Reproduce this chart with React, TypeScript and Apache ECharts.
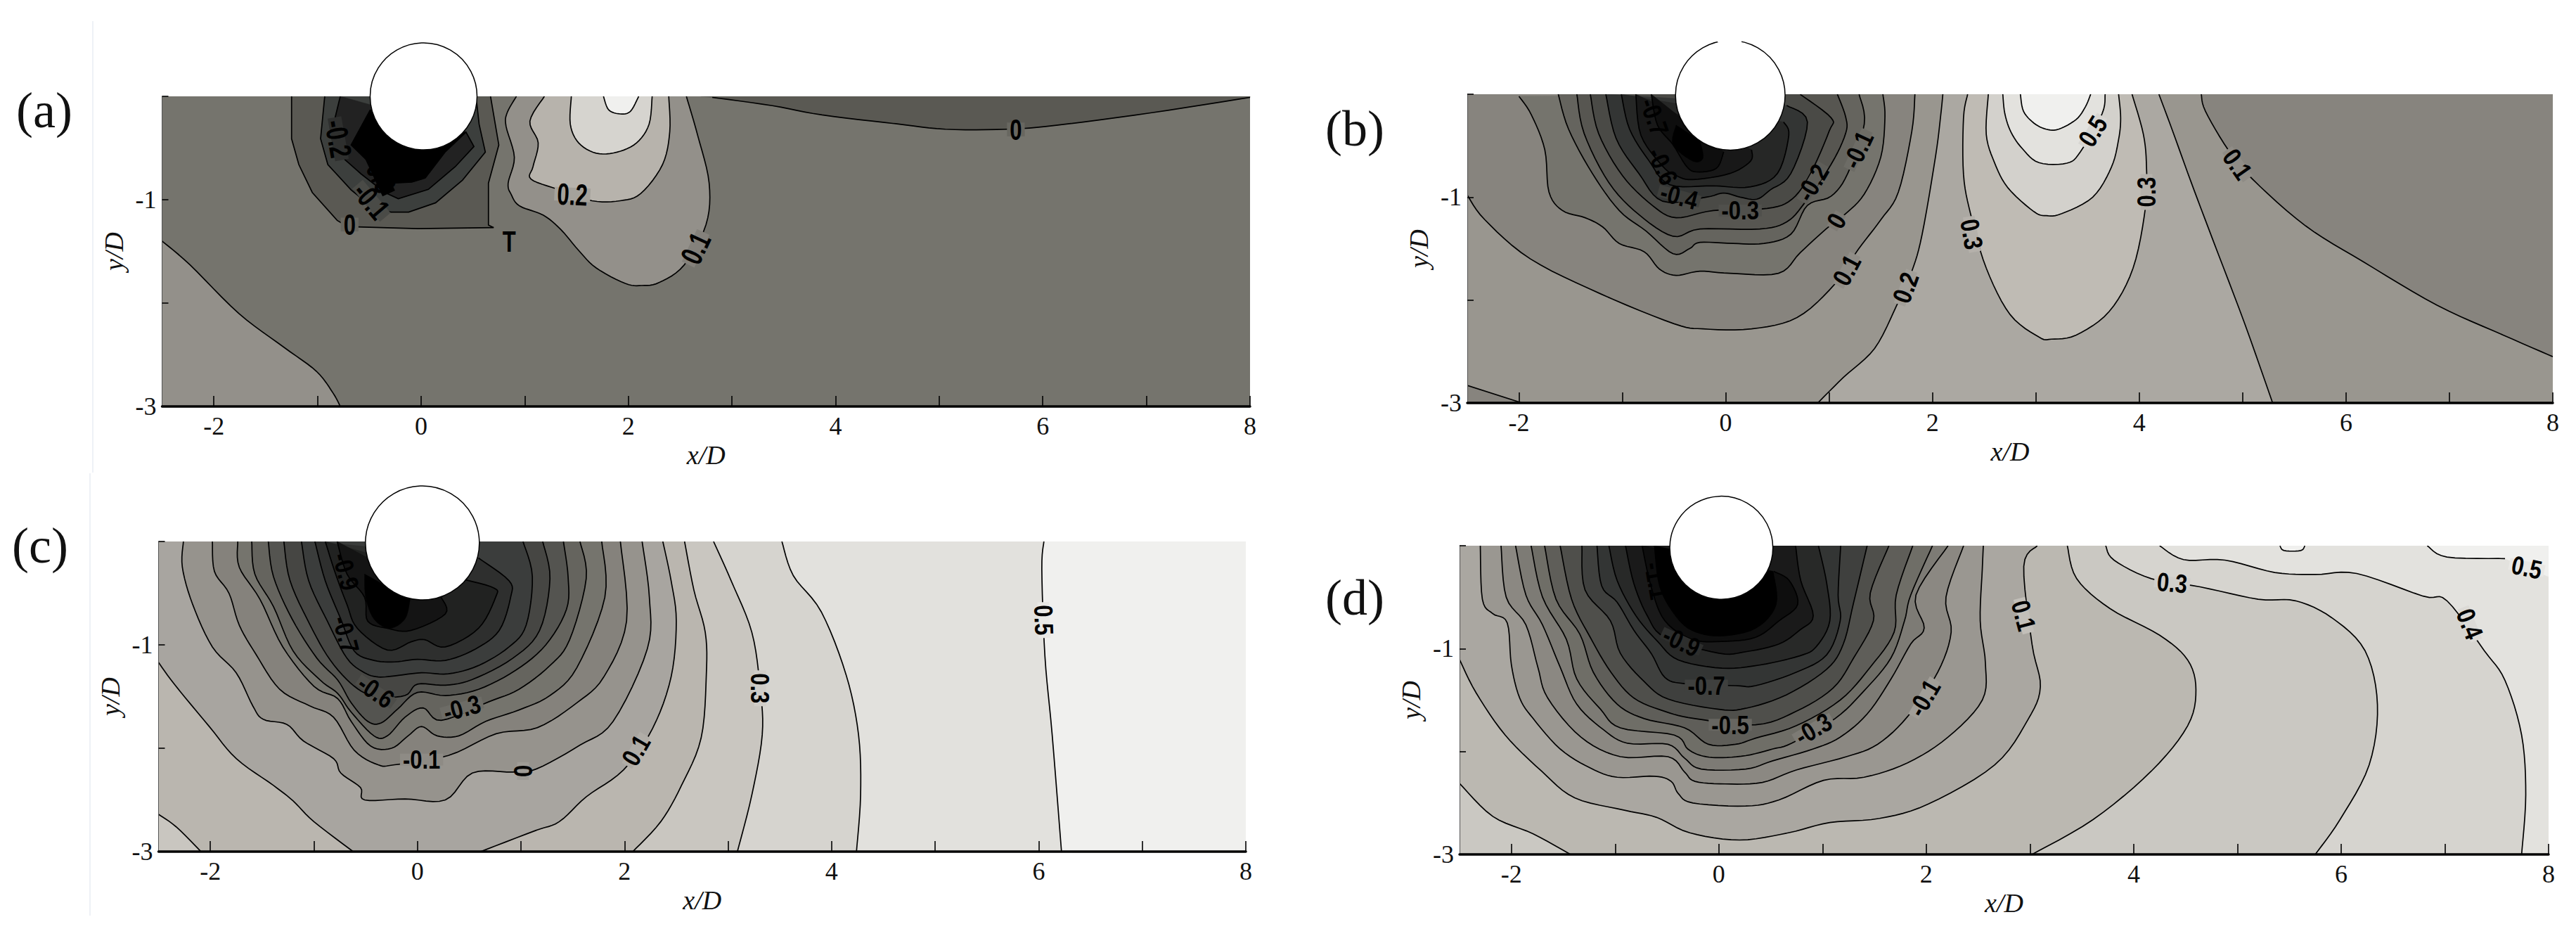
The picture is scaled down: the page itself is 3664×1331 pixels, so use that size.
import React, { useEffect, useRef } from "react";
import * as echarts from "echarts";

type Pt = number[];
type Region = { segments: Pt[][]; corners?: Pt[]; noLine?: boolean; sharp?: boolean };

const xTicks = [-2, -1, 0, 1, 2, 3, 4, 5, 6, 7, 8];
const xLabels = [-2, 0, 2, 4, 6, 8];
const yTicks = [0, -1, -2, -3];
const yLabels = [-1, -3];
const panelNames = ["(a)", "(b)", "(c)", "(d)"];

// ---------- panel (a) ----------
const contoursA: Region[] = [
  { segments: [[[-2.5,-1.4],[-2.23,-1.63],[-1.76,-2.1],[-1.32,-2.43],[-1.01,-2.66],[-0.85,-2.87],[-0.78,-3]]], corners: [[-2.5,-3]] },
  { segments: [[[2.81,-0.01],[3.39,-0.09],[3.87,-0.18],[4.58,-0.265],[5.06,-0.318],[5.65,-0.318],[6.13,-0.28],[7.04,-0.16],[8,-0.01]]], corners: [[8,0],[2.7,0]] },
  { segments: [[[2.56,0],[2.67,-0.38],[2.78,-0.84],[2.75,-1.24],[2.54,-1.63],[2.3,-1.8],[2.13,-1.83],[1.97,-1.81],[1.69,-1.66],[1.52,-1.49],[1.35,-1.29],[1.18,-1.15],[0.95,-1.06],[0.87,-0.95],[0.84,-0.84],[0.9,-0.59],[0.82,-0.29],[0.83,-0.16],[0.92,0]]] },
  { segments: [[[2.39,0],[2.4,-0.34],[2.33,-0.66],[2.12,-0.94],[1.92,-1.01],[1.65,-1.01],[1.32,-0.9],[1.06,-0.8],[1.08,-0.68],[1.13,-0.45],[1.05,-0.24],[1.19,0]]] },
  { segments: [[[2.23,0],[2.2,-0.27],[2.08,-0.45],[1.89,-0.54],[1.69,-0.55],[1.52,-0.45],[1.44,-0.27],[1.45,0]]] },
  { segments: [[[2.1,0],[2.02,-0.145],[1.92,-0.17],[1.81,-0.13],[1.76,0]]] },
  { segments: [[[-1.25,0],[-1.25,-0.41],[-1.18,-0.66],[-1.05,-0.93],[-0.81,-1.2],[-0.71,-1.26],[-0.03,-1.28],[0.7,-1.27],[0.65,-1.245],[0.65,-0.84],[0.75,-0.47],[0.67,0]]], sharp: true },
  { segments: [[[-0.93,0],[-0.97,-0.41],[-0.9,-0.66],[-0.675,-0.905],[-0.45,-1.09],[-0.29,-1.12],[-0.12,-1.12],[0.14,-1.03],[0.4,-0.81],[0.62,-0.54],[0.56,-0.27],[0.53,0]]], sharp: true },
  { segments: [[[-0.78,0],[-0.85,-0.29],[-0.84,-0.52],[-0.58,-0.75],[-0.35,-0.93],[-0.22,-0.99],[0.07,-0.9],[0.33,-0.68],[0.51,-0.485],[0.43,-0.34]]], sharp: true },
  { segments: [[[-0.49,-0.13],[-0.675,-0.47],[-0.48,-0.66],[-0.29,-0.84],[-0.09,-0.83],[0.04,-0.79],[0.23,-0.54],[0.43,-0.35]]], sharp: true },
];
const labelsA: [string, number, number][] = [
  ["0",5.74,-0.32],["0",-0.69,-1.24],["-0.1",-0.48,-1.01],["-0.2",-0.8,-0.41],["-0.3",-0.4,-0.75],["0.2",1.46,-0.95],["0.1",2.65,-1.47],["T",0.85,-1.4],
];

// ---------- panel (b) ----------
const contoursB: Region[] = [
  { segments: [[[4.6,0],[4.64,-0.165],[4.86,-0.54],[5.1,-0.83],[5.61,-1.28],[6.17,-1.63],[6.88,-2.05],[7.52,-2.34],[8,-2.55]]], corners: [[8,0]] },
  { segments: [[[-2.5,-2.83],[-1.97,-3]]], corners: [[-2.5,-3]] },
  { segments: [[[-2.5,-0.98],[-2.33,-1.22],[-1.89,-1.6],[-1.21,-1.94],[-0.5,-2.23],[-0.22,-2.28],[0.25,-2.28],[0.69,-2.17],[1.05,-1.85],[1.28,-1.51],[1.5,-1.22],[1.67,-0.95],[1.8,-0.36],[1.83,0]]], corners: [[-2.5,0]] },
  { segments: [[[0.89,-3],[1.14,-2.75],[1.44,-2.47],[1.65,-2.06],[1.8,-1.72],[1.9,-1.36],[2.03,-0.6],[2.08,-0.2],[2.1,0]],[[4.19,0],[4.32,-0.35],[4.5,-0.85],[4.71,-1.41],[5.02,-2.23],[5.29,-3]]] },
  { segments: [[[2.34,0],[2.3,-0.23],[2.3,-0.78],[2.37,-1.17],[2.52,-1.69],[2.75,-2.14],[3.03,-2.36],[3.15,-2.38],[3.39,-2.34],[3.71,-2.11],[3.94,-1.69],[4.06,-1.1],[4.07,-0.71],[4.04,-0.39],[3.93,0]]] },
  { segments: [[[2.54,0],[2.52,-0.39],[2.6,-0.665],[2.73,-0.91],[2.98,-1.14],[3.1,-1.18],[3.25,-1.16],[3.55,-1],[3.73,-0.71],[3.8,-0.44],[3.82,-0.23],[3.8,0]]] },
  { segments: [[[2.68,0],[2.7,-0.19],[2.76,-0.37],[2.87,-0.53],[3.03,-0.665],[3.3,-0.67],[3.43,-0.56],[3.64,-0.19],[3.67,0]]] },
  { segments: [[[2.85,0],[2.88,-0.165],[2.98,-0.28],[3.1,-0.34],[3.22,-0.34],[3.39,-0.245],[3.48,-0.12],[3.53,0]]] },
  { segments: [[[-2,-0.02],[-1.88,-0.2],[-1.75,-0.54],[-1.71,-0.95],[-1.58,-1.13],[-1.36,-1.2],[-1.19,-1.29],[-1.03,-1.45],[-0.79,-1.53],[-0.64,-1.7],[-0.48,-1.76],[-0.25,-1.72],[0.04,-1.74],[0.51,-1.74],[0.72,-1.54],[0.97,-1.31],[1.15,-1.17],[1.34,-0.97],[1.5,-0.61],[1.54,-0.22],[1.52,0]]] },
  { segments: [[[-1.62,0],[-1.52,-0.34],[-1.29,-0.77],[-1.03,-1.13],[-0.77,-1.33],[-0.51,-1.55],[-0.35,-1.5],[-0.25,-1.44],[0.07,-1.45],[0.37,-1.45],[0.63,-1.36],[0.79,-1.08],[1.02,-0.99],[1.18,-0.77],[1.34,-0.29],[1.29,0]]] },
  { segments: [[[-1.44,0],[-1.37,-0.38],[-1.13,-0.86],[-0.84,-1.17],[-0.51,-1.38],[-0.25,-1.31],[0.33,-1.31],[0.59,-1.24],[0.76,-1.06],[1.02,-0.68],[1.16,-0.38],[1.16,-0.22],[1.08,0]]] },
  { segments: [[[-1.31,0],[-1.23,-0.38],[-1,-0.79],[-0.71,-1.08],[-0.48,-1.2],[-0.12,-1.13],[0.4,-1.11],[0.64,-1.02],[0.82,-0.77],[1,-0.36],[1.02,-0.23],[0.72,0]]] },
  { segments: [[[-1.16,0],[-1.06,-0.43],[-0.84,-0.77],[-0.61,-1.04],[-0.19,-1],[-0.02,-0.96],[0.14,-1],[0.3,-1.02],[0.43,-0.93],[0.63,-0.77],[0.79,-0.27],[0.59,-0.11]]] },
  { segments: [[[-1.01,0],[-0.93,-0.34],[-0.74,-0.65],[-0.54,-0.88],[-0.12,-0.89],[0.24,-0.9],[0.5,-0.77],[0.61,-0.4],[0.56,-0.27]]] },
  { segments: [[[-0.87,0],[-0.82,-0.4],[-0.61,-0.7],[-0.48,-0.79],[-0.32,-0.83],[0.04,-0.77],[0.24,-0.65],[0.25,-0.54]]] },
  { segments: [[[-0.72,0],[-0.66,-0.3],[-0.51,-0.49],[-0.38,-0.7],[-0.28,-0.755],[-0.09,-0.72],[-0.02,-0.56]]] },
  { segments: [[[-0.48,-0.3],[-0.51,-0.49],[-0.32,-0.65],[-0.22,-0.62],[-0.25,-0.45]]], noLine: true },
];
const labelsB: [string, number, number][] = [
  ["-0.7",-0.69,-0.22],["-0.6",-0.61,-0.7],["-0.4",-0.45,-0.99],["-0.3",0.14,-1.13],["-0.2",0.84,-0.86],["-0.1",1.28,-0.54],["0",1.07,-1.23],["0.1",1.17,-1.71],["0.2",1.74,-1.88],["0.3",2.38,-1.36],["0.3",4.07,-0.95],["0.5",3.55,-0.36],["0.1",4.95,-0.68],
];

// ---------- panel (c) ----------
const contoursC: Region[] = [
  { segments: [[[6.05,0],[6.03,-0.27],[6.06,-1.11],[6.13,-1.87],[6.22,-3]]], corners: [[-2.5,-3],[-2.5,0]] },
  { segments: [[[3.52,0],[3.63,-0.33],[3.9,-0.68],[4.14,-1.29],[4.26,-1.87],[4.28,-2.45],[4.24,-3]]], corners: [[-2.5,-3],[-2.5,0]] },
  { segments: [[[2.86,0],[3.03,-0.38],[3.23,-0.88],[3.31,-1.42],[3.33,-1.87],[3.23,-2.45],[3.09,-3]]], corners: [[-2.5,-3],[-2.5,0]] },
  { segments: [[[-2.5,-2.64],[-2.33,-2.76],[-2.09,-3]],[[2.08,-3],[2.35,-2.71],[2.55,-2.36],[2.74,-1.9],[2.79,-1.29],[2.78,-0.88],[2.67,-0.47],[2.58,0]]], corners: [[-2.5,0]] },
  { segments: [[[-2.5,-1.17],[-2.34,-1.39],[-2.01,-1.79],[-1.75,-2.1],[-1.39,-2.36],[-1.2,-2.51],[-1,-2.71],[-0.62,-3]],[[0.61,-3],[1.13,-2.8],[1.37,-2.71],[1.63,-2.47],[1.99,-2.21],[2.27,-1.81],[2.45,-1.31],[2.5,-0.77],[2.45,-0.38],[2.37,0]]], corners: [[-2.5,0]] },
  { segments: [[[-2.26,0],[-2.27,-0.25],[-2.17,-0.61],[-1.98,-1.02],[-1.75,-1.27],[-1.59,-1.59],[-1.49,-1.72],[-1.26,-1.77],[-1.1,-1.93],[-0.81,-2.1],[-0.74,-2.24],[-0.55,-2.38],[-0.51,-2.5],[-0.12,-2.49],[0.27,-2.5],[0.53,-2.24],[0.92,-2.23],[1.15,-2.2],[1.57,-1.97],[1.89,-1.74],[2.22,-1.04],[2.24,-0.54],[2.17,0]]] },
  { segments: [[[-1.98,0],[-1.96,-0.29],[-1.82,-0.5],[-1.72,-0.81],[-1.56,-1.09],[-1.33,-1.43],[-1.04,-1.59],[-0.81,-1.7],[-0.61,-2.02],[-0.38,-2.16],[-0.22,-2.16],[0.3,-2.07],[0.76,-1.86],[1.16,-1.8],[1.54,-1.56],[1.8,-1.31],[2.02,-0.77],[1.96,0]]] },
  { segments: [[[-1.735,0],[-1.72,-0.25],[-1.52,-0.56],[-1.3,-1.02],[-1,-1.4],[-0.77,-1.52],[-0.64,-1.74],[-0.45,-1.98],[-0.25,-2],[-0.09,-1.88],[0.04,-1.79],[0.19,-1.88],[0.4,-1.88],[0.66,-1.74],[0.98,-1.63],[1.28,-1.49],[1.54,-1.22],[1.81,-0.54],[1.78,0]]] },
  { segments: [[[-1.6,0],[-1.57,-0.315],[-1.39,-0.63],[-1.2,-1.06],[-0.94,-1.34],[-0.77,-1.47],[-0.64,-1.65],[-0.42,-1.88],[-0.29,-1.88],[-0.12,-1.7],[0.055,-1.61],[0.23,-1.73],[0.69,-1.55],[0.98,-1.43],[1.28,-1.2],[1.47,-0.95],[1.63,-0.36],[1.57,0]]] },
  { segments: [[[-1.44,0],[-1.39,-0.34],[-1.21,-0.75],[-0.97,-1.13],[-0.77,-1.34],[-0.64,-1.56],[-0.48,-1.74],[-0.35,-1.755],[-0.19,-1.62],[0,-1.46],[0.27,-1.49],[0.59,-1.43],[0.95,-1.245],[1.24,-1],[1.44,-0.655],[1.455,-0.34],[1.41,0]]] },
  { segments: [[[-1.29,0],[-1.23,-0.38],[-1.035,-0.81],[-0.84,-1.15],[-0.61,-1.4],[-0.4,-1.5],[-0.12,-1.49],[0,-1.38],[0.27,-1.39],[0.53,-1.335],[0.92,-1.13],[1.18,-0.86],[1.28,-0.36],[1.21,0]]] },
  { segments: [[[-1.12,0],[-1.05,-0.38],[-0.87,-0.77],[-0.68,-1.13],[-0.51,-1.27],[-0.38,-1.31],[-0.22,-1.3],[0.04,-1.27],[0.3,-1.28],[0.59,-1.2],[0.885,-1.02],[1.05,-0.81],[1.11,-0.34],[1.02,0]]] },
  { segments: [[[-0.99,0],[-0.89,-0.38],[-0.74,-0.75],[-0.61,-1.06],[-0.42,-1.15],[-0.22,-1.165],[0,-1.14],[0.27,-1.15],[0.56,-1.04],[0.79,-0.86],[0.9,-0.54],[0.885,-0.38],[0.59,-0.16]]] },
  { segments: [[[-0.89,0],[-0.79,-0.315],[-0.68,-0.61],[-0.58,-0.84],[-0.29,-1.05],[-0.06,-0.97],[0.07,-0.95],[0.27,-1.02],[0.59,-0.84],[0.755,-0.54],[0.74,-0.45],[0.46,-0.37]]] },
  { segments: [[[-0.775,0],[-0.68,-0.315],[-0.51,-0.54],[-0.48,-0.77],[-0.29,-0.84],[-0.06,-0.86],[0.27,-0.7],[0.23,-0.54]]] },
  { segments: [[[-0.51,-0.315],[-0.5,-0.54],[-0.42,-0.75],[-0.27,-0.84],[-0.12,-0.75],[-0.07,-0.56]]], noLine: true },
];
const labelsC: [string, number, number][] = [
  ["0.5",6.05,-0.76],["0.3",3.31,-1.42],["0.1",2.11,-2.02],["0",1.02,-2.22],["-0.1",0.04,-2.11],["-0.3",0.43,-1.61],["-0.6",-0.4,-1.45],["-0.7",-0.69,-0.9],["-0.9",-0.69,-0.29],
];

// ---------- panel (d) ----------
const contoursD: Region[] = [
  { segments: [[[6.83,0],[7.02,-0.11],[7.58,-0.125]]], corners: [[8,-0.3],[8,0]] },
  { segments: [[[5.41,0],[5.45,-0.047],[5.61,-0.047],[5.65,0]]] },
  { segments: [[[4.25,0],[4.48,-0.135],[4.88,-0.14],[5.36,-0.26],[5.75,-0.28],[6.15,-0.27],[6.79,-0.49],[7.02,-0.535],[7.38,-1.02],[7.58,-1.31],[7.74,-1.84],[7.78,-2.42],[7.74,-3]]], corners: [[-2.5,-3],[-2.5,0]] },
  { segments: [[[3.73,0],[3.81,-0.14],[4.17,-0.32],[4.64,-0.4],[5.2,-0.52],[5.56,-0.535],[5.91,-0.7],[6.23,-1.02],[6.35,-1.545],[6.27,-2.13],[5.99,-2.66],[5.75,-3]]], corners: [[-2.5,-3],[-2.5,0]] },
  { segments: [[[-2.5,-2.31],[-2.18,-2.63],[-1.79,-2.8],[-1.43,-3]],[[3.02,-3],[3.61,-2.66],[4.17,-2.19],[4.52,-1.75],[4.6,-1.4],[4.52,-1.11],[4.25,-0.87],[3.77,-0.61],[3.45,-0.32],[3.36,0]]], corners: [[-2.5,0]] },
  { segments: [[[-2.5,-1.106],[-2.34,-1.43],[-2.06,-1.84],[-1.71,-2.19],[-1.39,-2.45],[-0.91,-2.57],[-0.6,-2.64],[-0.28,-2.79],[0.2,-2.86],[0.67,-2.79],[1.07,-2.69],[1.55,-2.65],[2.02,-2.51],[2.66,-2.13],[2.98,-1.69],[3.1,-1.37],[3.02,-0.96],[2.94,-0.2],[3.07,0]]], corners: [[-2.5,0]] },
  { segments: [[[-2.3,0],[-2.28,-0.52],[-2.18,-0.66],[-2.04,-0.75],[-2,-1.16],[-1.92,-1.48],[-1.79,-1.68],[-1.53,-1.975],[-1.24,-2.16],[-0.98,-2.25],[-0.62,-2.24],[-0.46,-2.29],[-0.39,-2.41],[-0.25,-2.5],[0.26,-2.53],[0.58,-2.47],[1.01,-2.28],[1.4,-2.25],[1.82,-2.11],[2.21,-1.86],[2.54,-1.5],[2.57,-1.14],[2.52,-0.73],[2.54,-0.23],[2.55,0]]] },
  { segments: [[[-2.1,0],[-2.05,-0.5],[-1.86,-0.77],[-1.745,-1.18],[-1.65,-1.48],[-1.33,-1.86],[-0.95,-2.05],[-0.49,-2.05],[-0.33,-2.2],[-0.23,-2.29],[0.06,-2.315],[0.42,-2.3],[0.745,-2.18],[1.23,-2.05],[1.53,-1.93],[1.82,-1.66],[2.11,-1.23],[2.24,-0.84],[2.19,-0.5],[2.36,0]]] },
  { segments: [[[-1.96,0],[-1.86,-0.48],[-1.7,-0.77],[-1.53,-1.18],[-1.37,-1.54],[-1.11,-1.79],[-0.88,-1.92],[-0.49,-1.93],[-0.33,-2.065],[-0.17,-2.17],[0.26,-2.17],[0.52,-2.09],[0.91,-1.975],[1.17,-1.86],[1.43,-1.635],[1.66,-1.295],[1.85,-0.955],[1.98,-0.8],[1.9,-0.48],[2.21,0]]] },
  { segments: [[[-1.81,0],[-1.7,-0.5],[-1.47,-0.91],[-1.37,-1.295],[-1.14,-1.59],[-0.95,-1.77],[-0.43,-1.84],[-0.3,-1.975],[-0.17,-2.04],[0,-2.06],[0.26,-2.04],[0.52,-1.975],[0.7,-1.92],[1.12,-1.68],[1.4,-1.41],[1.66,-1.09],[1.79,-0.73],[1.85,-0.48],[2.06,0]]] },
  { segments: [[[-1.68,0],[-1.57,-0.52],[-1.34,-0.86],[-1.21,-1.23],[-0.98,-1.54],[-0.72,-1.68],[-0.33,-1.77],[-0.1,-1.93],[0.16,-1.93],[0.355,-1.87],[0.745,-1.75],[1.17,-1.5],[1.46,-1.18],[1.69,-0.84],[1.71,-0.48],[1.87,0]]] },
  { segments: [[[-1.53,0],[-1.42,-0.52],[-1.24,-0.89],[-1.04,-1.23],[-0.82,-1.48],[-0.52,-1.61],[-0.23,-1.68],[0.355,-1.74],[0.745,-1.61],[1.1,-1.385],[1.3,-1.09],[1.49,-0.73],[1.46,-0.46],[1.64,0]]] },
  { segments: [[[-1.32,0],[-1.29,-0.43],[-1.045,-0.73],[-0.95,-1.045],[-0.72,-1.32],[-0.49,-1.49],[0,-1.59],[0.26,-1.58],[0.65,-1.45],[1.04,-1.2],[1.2,-0.955],[1.3,-0.55],[1.43,0]]] },
  { segments: [[[-1.175,0],[-1.13,-0.39],[-0.98,-0.55],[-0.82,-0.82],[-0.65,-1.05],[-0.52,-1.28],[-0.33,-1.34],[0.16,-1.36],[0.355,-1.36],[0.745,-1.23],[1.04,-1.06],[1.17,-0.73],[1.15,-0.48],[1.175,0]]] },
  { segments: [[[-1.06,0],[-0.98,-0.34],[-0.8,-0.68],[-0.59,-0.93],[-0.39,-1.11],[0.03,-1.19],[0.39,-1.16],[0.78,-1.07],[0.94,-0.98],[1.07,-0.73],[1.04,-0.365],[0.96,0]]] },
  { segments: [[[-0.9,0],[-0.82,-0.365],[-0.69,-0.68],[-0.52,-0.89],[0,-1.045],[0.26,-1.03],[0.58,-0.955],[0.78,-0.82],[0.91,-0.68],[0.79,-0.34],[0.74,0]]] },
  { segments: [[[-0.74,0],[-0.65,-0.41],[-0.52,-0.73],[-0.26,-0.91],[0.03,-0.93],[0.355,-0.89],[0.58,-0.73],[0.76,-0.57],[0.68,-0.34],[0.53,-0.25]]] },
  { segments: [[[-0.62,0],[-0.57,-0.39],[-0.43,-0.66],[-0.26,-0.82],[0.01,-0.875],[0.355,-0.8],[0.55,-0.57],[0.52,-0.25]]] },
  { segments: [[[-0.475,-0.21],[-0.52,-0.5],[-0.49,-0.66],[-0.26,-0.8],[0,-0.82],[0.16,-0.75],[0.13,-0.615],[0.06,-0.52]]], noLine: true },
];
const labelsD: [string, number, number][] = [
  ["0.5",7.79,-0.21],["0.4",7.24,-0.76],["0.3",4.37,-0.36],["0.1",2.94,-0.68],["-0.1",1.98,-1.48],["-0.3",0.91,-1.78],["-0.5",0.11,-1.74],["-0.7",-0.12,-1.36],["-0.9",-0.36,-0.93],["-1.1",-0.6,-0.34],
];

// cylinder: centre x, centre y, radius (in x/D units)
const cylinders = [
  [0.024, 0, 0.516],
  [0.044, -0.01, 0.53],
  [0.048, -0.014, 0.55],
  [0.024, -0.02, 0.497],
];

// ---------- styles ----------
const fillsA = ["#93908a","#5a5953","#93908a","#b7b3ac","#d6d4cf","#f0f0ee","#5a5953","#3c3f3d","#222222","#000000"];
const fillsB = ["#87847e","#87847e","#87847e","#aba8a2","#bfbbb4","#d3d1cc","#e3e2de","#f0f0ee","#75746d","#65645e","#575651","#4a4a46","#333534","#262726","#181818","#0e0e0e","#000000"];
const fillsC = ["#e2e1dd","#d6d4cf","#c9c6c0","#bab6af","#a8a5a0","#96938d","#85827c","#75746d","#65645e","#545450","#464643","#3b3d3c","#2e2f2e","#212221","#141414","#000000"];
const fillsD = ["#f0f0ee","#f0f0ee","#d6d4cf","#cac8c2","#bbb8b1","#aaa7a1","#9a9791","#8b8882","#7d7b75","#6f6e67","#5f5e59","#4f4f4b","#3f403e","#333534","#282928","#1a1a1a","#0e0e0e","#000000"];
const baseFills = ["#75746d", "#99968f", "#f0f0ee", "#e3e2de"];
const labelStyleA: [number, string][] = [[0,"#686760"],[0,"#686760"],[-50,"#4a4b47"],[-80,"#2e2f2e"],[-65,"#000000"],[-3,"#a5a29b"],[65,"#84817b"],[0,"none"]];
const labelStyleB: [number, string][] = [[-70,"none"],[-65,"none"],[-15,"#3e3f3c"],[0,"#50504c"],[60,"#5e5d58"],[65,"#6d6c66"],[60,"#7e7b75"],[62,"#908d87"],[70,"#a29f99"],[-80,"#b5b1ab"],[90,"#b5b1ab"],[58,"#d8d6d2"],[-55,"#8f8c86"]];
const labelStyleC: [number, string][] = [[-88,"#e9e8e5"],[-90,"#d0cdc8"],[60,"#b0ada7"],[90,"#9f9c96"],[0,"#8e8b85"],[15,"#6d6c66"],[-35,"#4d4d49"],[-75,"none"],[-75,"none"]];
const labelStyleD: [number, string][] = [[-12,"#e9e8e5"],[-68,"#dcdad6"],[-5,"#d0ceca"],[-75,"#c2bfb9"],[60,"#a19e98"],[30,"#7d7b75"],[0,"#676661"],[0,"#3f403e"],[-25,"#2d2e2d"],[-80,"none"]];
const labelScaleY = [1.4, 1.2, 1.2, 1.2];

const grids = [
  { left: 230.5, top: 137, width: 1547.5, height: 441 },
  { left: 2087, top: 134, width: 1544, height: 439 },
  { left: 225.5, top: 770, width: 1546.5, height: 441 },
  { left: 2076, top: 776, width: 1549, height: 439 },
];
const letterPos = [[23, 157], [1885, 183], [17, 776], [1885, 850]];

const SERIF = "Liberation Serif";
const LABEL_FONT = "bold 31px Liberation Sans";

// draws a smooth curve through the read-off points (pixel space)
function curve(pts: number[][]) {
  if (pts.length < 3) return pts;
  const out: number[][] = [pts[0]];
  for (let i = 0; i < pts.length - 1; i++) {
    const p0 = pts[Math.max(i - 1, 0)];
    const p1 = pts[i];
    const p2 = pts[i + 1];
    const p3 = pts[Math.min(i + 2, pts.length - 1)];
    for (let k = 1; k <= 6; k++) {
      const t = k / 6;
      const t2 = t * t;
      const t3 = t2 * t;
      out.push([0, 1].map((d) =>
        0.5 * (2 * p1[d] + (p2[d] - p0[d]) * t + (2 * p0[d] - 5 * p1[d] + 4 * p2[d] - p3[d]) * t2 + (3 * p1[d] - p0[d] - 3 * p2[d] + p3[d]) * t3)
      ));
    }
  }
  return out;
}

function regionRender(regions: Region[], fills: string[]) {
  return (params: any, api: any) => {
    const r = regions[params.dataIndex];
    const px = (p: Pt) => api.coord(p);
    const segs = r.segments.map((s) => (r.sharp ? s.map(px) : curve(s.map(px))));
    const pts = segs.flat().concat((r.corners || []).map(px));
    const fill = fills[params.dataIndex];
    const children: any[] = [
      { type: "polygon", shape: { points: pts }, style: { fill, stroke: fill, lineWidth: 0.5 } },
    ];
    if (!r.noLine) {
      segs.forEach((seg) =>
        children.push({
          type: "polyline",
          shape: { points: seg },
          style: { fill: null, stroke: "#000", lineWidth: 1.7 },
        })
      );
    }
    return { type: "group", children };
  };
}

function labelRender(labels: [string, number, number][], styles: [number, string][], sy: number) {
  return (params: any, api: any) => {
    const i = params.dataIndex;
    const p = api.coord([api.value(0), api.value(1)]);
    const [rot, bg] = styles[i];
    const style: any = {
      text: labels[i][0],
      fill: "#000",
      font: LABEL_FONT,
      align: "center",
      verticalAlign: "middle",
      lineHeight: 14,
    };
    if (bg !== "none") {
      style.backgroundColor = bg;
      style.padding = [0, 4];
    }
    return { type: "text", x: p[0], y: p[1], scaleY: sy, rotation: (rot * Math.PI) / 180, style };
  };
}

function buildOption() {
  const allRegions = [contoursA, contoursB, contoursC, contoursD];
  const allFills = [fillsA, fillsB, fillsC, fillsD];
  const allLabels = [labelsA, labelsB, labelsC, labelsD];
  const allLabelStyles = [labelStyleA, labelStyleB, labelStyleC, labelStyleD];
  const series: any[] = [];
  const xAxis: any[] = [];
  const yAxis: any[] = [];
  const graphic: any[] = [];

  grids.forEach((g, k) => {
    xAxis.push({
      gridIndex: k, type: "value", min: -2.5, max: 8, z: 10,
      name: "x/D", nameLocation: "middle", nameGap: 50,
      nameTextStyle: { fontFamily: SERIF, fontStyle: "italic", fontSize: 38, color: "#111" },
      axisLine: { show: true, onZero: false, lineStyle: { color: "#000", width: 3.5 } },
      axisTick: { show: true, inside: true, length: 15, customValues: xTicks, lineStyle: { color: "#000", width: 1.6 } },
      axisLabel: { show: true, customValues: xLabels, margin: 10, fontFamily: SERIF, fontSize: 36, color: "#111", showMinLabel: true, showMaxLabel: true },
      splitLine: { show: false },
    });
    yAxis.push({
      gridIndex: k, type: "value", min: -3, max: 0, interval: 1, z: 10,
      name: "y/D", nameLocation: "middle", nameGap: 50, nameRotate: 90,
      nameTextStyle: { fontFamily: SERIF, fontStyle: "italic", fontSize: 38, color: "#111" },
      axisLine: { show: true, onZero: false, lineStyle: { color: "#555", width: 1 } },
      axisTick: { show: true, inside: true, length: 9, customValues: yTicks, lineStyle: { color: "#000", width: 1.6 } },
      axisLabel: { show: true, customValues: yLabels, margin: 8, fontFamily: SERIF, fontSize: 36, color: "#111" },
      splitLine: { show: false },
    });

    // base fill of the plot area
    series.push({
      type: "custom", xAxisIndex: k, yAxisIndex: k, z: 2, silent: true,
      data: [[-2.5, -3]],
      renderItem: (_p: any, api: any) => {
        const a = api.coord([-2.5, 0]);
        const s = api.size([10.5, 3]);
        return { type: "rect", shape: { x: a[0], y: a[1], width: s[0], height: s[1] }, style: { fill: baseFills[k] } };
      },
    });
    series.push({
      type: "custom", xAxisIndex: k, yAxisIndex: k, z: 3, silent: true, clip: true,
      data: allRegions[k].map((r) => r.segments[0][0]),
      renderItem: regionRender(allRegions[k], allFills[k]),
    });
    series.push({
      type: "custom", xAxisIndex: k, yAxisIndex: k, z: 4, silent: true,
      data: [[cylinders[k][0], cylinders[k][1]]],
      renderItem: (_p: any, api: any) => {
        const c = api.coord([cylinders[k][0], cylinders[k][1]]);
        const r = api.size([cylinders[k][2], 0])[0];
        const children: any[] = [
          { type: "circle", shape: { cx: c[0], cy: c[1], r }, style: { fill: "#fff", stroke: "#000", lineWidth: 1.5 } },
        ];
        if (k === 1) {
          children.push({ type: "rect", shape: { x: c[0] - 18, y: c[1] - r - 3, width: 34, height: 6 }, style: { fill: "#fff" } });
        }
        return { type: "group", children };
      },
    });
    series.push({
      type: "custom", xAxisIndex: k, yAxisIndex: k, z: 5, silent: true,
      data: allLabels[k].map((l) => [l[1], l[2]]),
      renderItem: labelRender(allLabels[k], allLabelStyles[k], labelScaleY[k]),
    });

    graphic.push({
      type: "text", x: letterPos[k][0], y: letterPos[k][1], z: 20,
      style: { text: panelNames[k], font: `72px ${SERIF}`, fill: "#111", verticalAlign: "middle" },
    });
  });

  // faint crop edges left in the picture
  graphic.push({ type: "line", shape: { x1: 132, y1: 30, x2: 132, y2: 672 }, style: { stroke: "#eef1f6", lineWidth: 2 } });
  graphic.push({ type: "line", shape: { x1: 128, y1: 673, x2: 128, y2: 1302 }, style: { stroke: "#eef1f6", lineWidth: 2 } });

  return { animation: false, backgroundColor: "#fff", grid: grids, xAxis, yAxis, series, graphic };
}

export default function App() {
  const ref = useRef<HTMLDivElement>(null);
  useEffect(() => {
    document.body.style.margin = "0";
    const chart = echarts.init(ref.current!, undefined, { renderer: "svg" });
    chart.setOption(buildOption() as any);
    return () => chart.dispose();
  }, []);
  return <div ref={ref} style={{ width: 3664, height: 1331, position: "absolute", left: 0, top: 0 }} />;
}
